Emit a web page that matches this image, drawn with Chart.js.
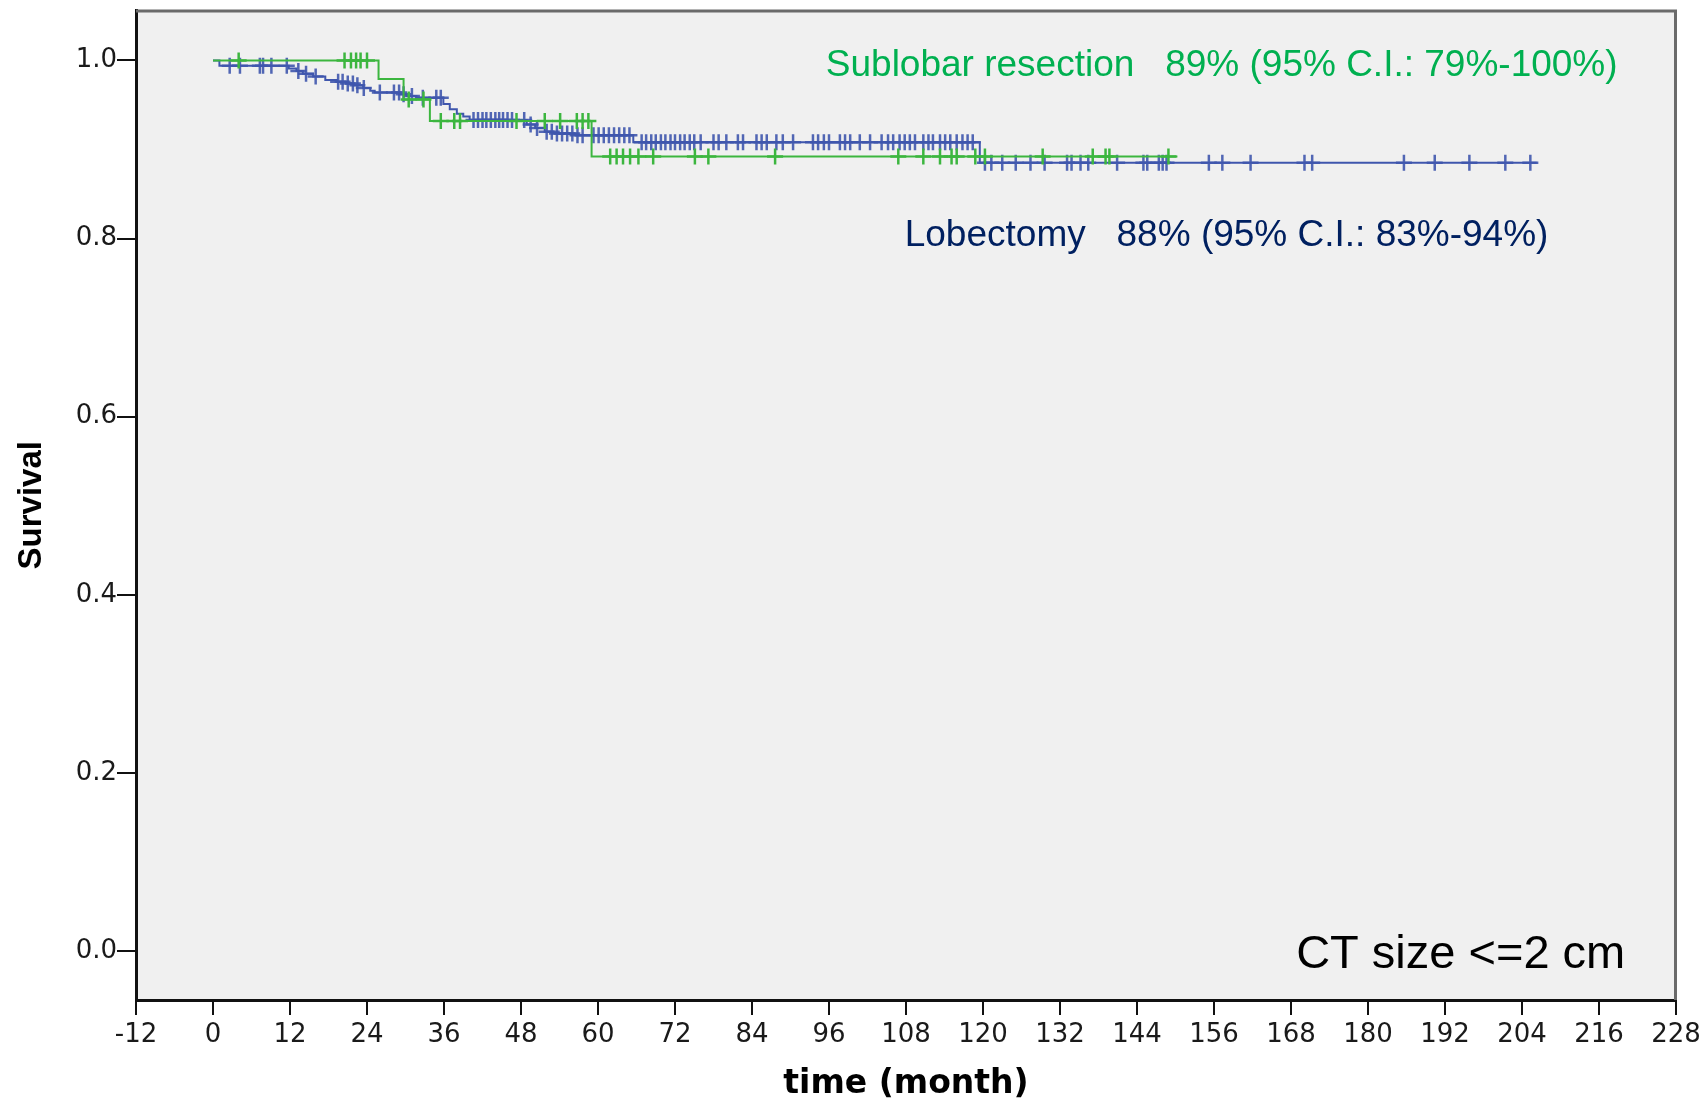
<!DOCTYPE html>
<html>
<head>
<meta charset="utf-8">
<script src="https://cdn.jsdelivr.net/npm/chart.js@4"></script>
<style>
  html, body { margin: 0; padding: 0; background: #ffffff; }
  #wrap { width: 1703px; height: 1103px; }
</style>
</head>
<body>
<div id="wrap"><canvas id="c" width="1703" height="1103"></canvas></div>
<script>
// ---- data (months, survival) ----
const xTickValues = [-12, 0, 12, 24, 36, 48, 60, 72, 84, 96, 108, 120, 132, 144, 156, 168, 180, 192, 204, 216, 228];
const yTickValues = [0.0, 0.2, 0.4, 0.6, 0.8, 1.0];

const lobEventTimes = [1.0, 11.8, 13.0, 14.0, 15.6, 17.5, 19.3, 20.8, 21.9, 23.4, 24.5, 25.2, 29.1, 30.2, 31.7, 35.9, 36.9, 38.0, 39.0, 40.0, 48.9, 50.2, 51.7, 53.0, 56.5, 65.5, 119.5];
const lobEventSurv  = [0.994, 0.991, 0.988, 0.985, 0.982, 0.978, 0.976, 0.974, 0.972, 0.969, 0.966, 0.964, 0.962, 0.960, 0.958, 0.951, 0.945, 0.940, 0.937, 0.933, 0.928, 0.924, 0.920, 0.918, 0.916, 0.908, 0.885];
const lobCensorTimes = [2.6, 4.2, 7.3, 7.8, 9.1, 11.5, 13.3, 14.5, 16.0, 19.5, 20.2, 21.0, 21.8, 22.5, 23.5, 26.0, 28.2, 29.0, 29.7, 31.0, 32.7, 34.8, 35.5, 40.6, 41.3, 42.0, 42.6, 43.3, 44.0, 44.6, 45.2, 45.9, 46.6, 48.5, 49.5, 50.5, 52.0, 52.8, 53.6, 54.4, 55.2, 56.0, 56.8, 57.6, 59.3, 60.1, 60.9, 61.7, 62.5, 63.3, 64.1, 64.9, 66.8, 67.5, 68.3, 69.0, 69.8, 70.5, 71.3, 72.0, 72.8, 73.5, 74.3, 75.0, 76.0, 78.0, 78.8, 80.0, 81.8, 82.6, 84.7, 85.5, 86.3, 87.8, 88.8, 90.4, 93.5, 94.3, 95.2, 96.0, 97.7, 98.5, 99.3, 100.8, 102.4, 104.2, 105.2, 106.0, 107.0, 107.8, 108.6, 109.4, 110.7, 111.5, 112.2, 113.3, 114.1, 114.9, 115.9, 116.8, 117.6, 118.4, 120.3, 121.3, 123.0, 125.1, 127.4, 129.6, 133.1, 133.8, 135.2, 136.4, 140.9, 145.0, 145.6, 147.4, 148.0, 148.6, 155.2, 157.3, 161.7, 170.1, 171.3, 185.6, 190.4, 195.8, 201.4, 205.3];
const lobLastTime = 206.3;

const subEventTimes = [25.8, 29.7, 33.8, 59.0];
const subEventSurv  = [0.979, 0.956, 0.932, 0.892];
const subCensorTimes = [4.0, 20.5, 21.5, 22.3, 23.0, 24.0, 30.5, 32.8, 35.5, 37.6, 38.5, 47.3, 51.7, 54.1, 56.7, 57.6, 58.5, 61.9, 62.9, 63.9, 65.0, 66.3, 68.6, 75.1, 77.2, 87.6, 106.8, 110.7, 113.3, 115.1, 115.9, 118.8, 120.3, 129.3, 137.1, 139.1, 139.7, 148.9];
const subLastTime = 150.3;

const subLabel = 'Sublobar resection   89% (95% C.I.: 79%-100%)';
const lobLabel = 'Lobectomy   88% (95% C.I.: 83%-94%)';
const panelLabel = 'CT size <=2 cm';

// ---- helpers to build library data ----
function stepLine(times, surv, last) {
  const pts = [{x: 0, y: 1}];
  times.forEach((t, i) => pts.push({x: t, y: surv[i]}));
  pts.push({x: last, y: surv[surv.length - 1]});
  return pts;
}
function survAt(t, times, surv) {
  let s = 1;
  for (let i = 0; i < times.length; i++) { if (times[i] <= t) s = surv[i]; }
  return s;
}
function censorPts(ct, times, surv) {
  return ct.map(t => ({x: t, y: survAt(t, times, surv)}));
}

const GREEN = '#3cb63f';
const BLUE = '#3f56ad';

const bgPlugin = {
  id: 'bg',
  beforeDraw(chart) {
    const {ctx, chartArea: a} = chart;
    ctx.save();
    ctx.fillStyle = '#f0f0f0';
    ctx.fillRect(a.left, a.top, a.right - a.left, a.bottom - a.top);
    ctx.restore();
  },
  afterDraw(chart) {
    const {ctx, chartArea: a, scales} = chart;
    ctx.save();
    ctx.strokeStyle = '#6a6a6a';
    ctx.lineWidth = 3;
    ctx.beginPath();
    ctx.moveTo(a.left, a.top + 0.5);
    ctx.lineTo(a.right - 0.5, a.top + 0.5);
    ctx.lineTo(a.right - 0.5, a.bottom);
    ctx.stroke();
    // annotation texts
    const xs = scales.x, ys = scales.y;
    ctx.textBaseline = 'alphabetic';
    ctx.textAlign = 'left';
    ctx.font = '37px "Liberation Sans", Arial, sans-serif';
    ctx.fillStyle = '#00b050';
    ctx.fillText(subLabel, xs.getPixelForValue(95.5), ys.getPixelForValue(0.983));
    ctx.fillStyle = '#002060';
    ctx.fillText(lobLabel, xs.getPixelForValue(107.8), ys.getPixelForValue(0.792));
    ctx.font = '47px "Liberation Sans", Arial, sans-serif';
    ctx.fillStyle = '#000000';
    ctx.fillText(panelLabel, xs.getPixelForValue(168.8), ys.getPixelForValue(-0.019));
    ctx.restore();
  }
};

const xTickFont = {family: '"DejaVu Sans", Verdana, sans-serif', size: 26};
const yTickFont = {family: '"DejaVu Sans", Verdana, sans-serif', size: 26};
const xTitleFont = {family: '"DejaVu Sans", Verdana, sans-serif', size: 33, weight: 'bold', lineHeight: 1};
const yTitleFont = {family: '"Liberation Sans", Arial, sans-serif', size: 33, weight: 'bold', lineHeight: 1};

new Chart(document.getElementById('c'), {
  type: 'scatter',
  data: {
    datasets: [
      {
        label: 'Sublobar censored',
        data: censorPts(subCensorTimes, subEventTimes, subEventSurv),
        showLine: false,
        pointStyle: 'cross',
        pointRadius: 8,
        pointBorderWidth: 2.5,
        pointBorderColor: GREEN,
        pointBackgroundColor: GREEN
      },
      {
        label: 'Sublobar resection',
        data: stepLine(subEventTimes, subEventSurv, subLastTime),
        showLine: true,
        stepped: 'before',
        borderColor: GREEN,
        borderWidth: 2,
        pointRadius: 0,
        fill: false
      },
      {
        label: 'Lobectomy censored',
        data: censorPts(lobCensorTimes, lobEventTimes, lobEventSurv),
        showLine: false,
        pointStyle: 'cross',
        pointRadius: 8,
        pointBorderWidth: 2.5,
        pointBorderColor: 'rgba(63,86,173,0.9)',
        pointBackgroundColor: BLUE
      },
      {
        label: 'Lobectomy',
        data: stepLine(lobEventTimes, lobEventSurv, lobLastTime),
        showLine: true,
        stepped: 'before',
        borderColor: BLUE,
        borderWidth: 2,
        pointRadius: 0,
        fill: false
      }
    ]
  },
  options: {
    responsive: false,
    animation: false,
    events: [],
    layout: { padding: { top: 10, right: 27, left: 0, bottom: 0 } },
    plugins: { legend: { display: false }, tooltip: { enabled: false } },
    scales: {
      x: {
        type: 'linear',
        min: -12,
        max: 228,
        afterBuildTicks: (s) => { s.ticks = xTickValues.map(v => ({value: v})); },
        afterFit: (s) => { s.height = 103; s.paddingLeft = 0; s.paddingRight = 0; },
        ticks: { font: xTickFont, color: '#1a1a1a', padding: 5, maxRotation: 0, autoSkip: false,
                 callback: (v) => String(v) },
        grid: { display: true, drawOnChartArea: false, drawTicks: true, tickLength: 15, color: '#111', lineWidth: 2 },
        border: { display: true, color: '#111', width: 3 },
        title: { display: true, text: 'time (month)', font: xTitleFont, color: '#000', padding: { top: 0, bottom: 2 } }
      },
      y: {
        type: 'linear',
        min: -0.055,
        max: 1.056,
        afterBuildTicks: (s) => { s.ticks = yTickValues.map(v => ({value: v})); },
        afterFit: (s) => { s.width = 136; s.paddingTop = 0; s.paddingBottom = 0; },
        ticks: { font: yTickFont, color: '#1a1a1a', padding: 0, autoSkip: false,
                 callback: (v) => Number(v).toFixed(1) },
        grid: { display: true, drawOnChartArea: false, drawTicks: true, tickLength: 19, color: '#111', lineWidth: 2 },
        border: { display: true, color: '#111', width: 3 },
        title: { display: true, text: 'Survival', font: yTitleFont, color: '#000', padding: { top: 15, bottom: 0 } }
      }
    }
  },
  plugins: [bgPlugin]
});
</script>
</body>
</html>
